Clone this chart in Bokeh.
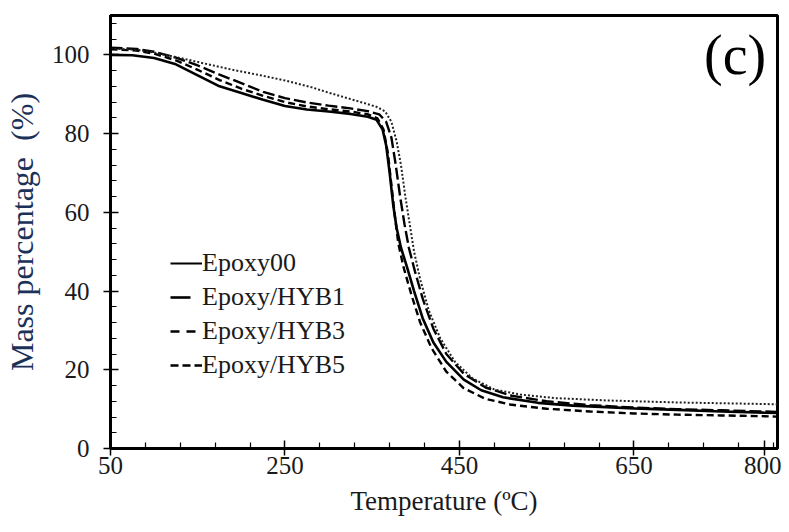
from bokeh.plotting import figure
from bokeh.models import Range1d, FixedTicker, Legend, LegendItem, Label
from bokeh.embed import file_html
from bokeh.resources import INLINE

# ---- data ----
x_ticks = [50, 250, 450, 650, 800]
x_tick_labels = ["50", "250", "450", "650", "800"]
y_ticks = [0, 20, 40, 60, 80, 100]

temp_00 = [50, 75, 100, 125, 150, 175, 200, 225, 250, 275, 300, 325, 345, 355, 362, 366, 370, 374, 378, 383, 390, 398, 408, 420, 435, 455, 475, 500, 540, 580, 650, 700, 750, 800, 814]
mass_00 = [100, 99.9, 99.2, 97.6, 94.8, 92.0, 90.3, 88.6, 87.0, 86.1, 85.6, 85.0, 84.3, 83.5, 81.0, 77.0, 70.0, 62.0, 56.0, 51.0, 46.0, 40.0, 33.0, 27.0, 22.0, 17.5, 14.8, 13.0, 11.6, 10.9, 10.2, 9.8, 9.4, 9.1, 9.0]

temp_hyb1 = [50, 80, 100, 125, 150, 175, 200, 225, 250, 275, 300, 325, 345, 358, 366, 372, 377, 382, 387, 392, 399, 408, 420, 435, 455, 480, 510, 550, 600, 650, 700, 750, 800, 814]
mass_hyb1 = [101.8, 101.5, 100.8, 99.3, 97.3, 95.0, 92.8, 90.6, 89.0, 87.9, 87.1, 86.4, 85.7, 84.9, 83.0, 79.0, 72.0, 64.0, 57.0, 51.0, 45.0, 38.0, 30.5, 24.0, 19.0, 15.5, 13.4, 12.0, 11.0, 10.4, 10.0, 9.7, 9.4, 9.3]

temp_hyb3 = [50, 80, 100, 125, 150, 175, 200, 225, 250, 275, 300, 325, 345, 356, 363, 368, 372, 376, 380, 386, 395, 405, 418, 435, 455, 480, 510, 550, 600, 650, 700, 750, 800, 814]
mass_hyb3 = [101.4, 101.1, 100.3, 98.6, 96.2, 93.6, 91.4, 89.6, 88.0, 86.9, 86.2, 85.6, 84.9, 83.9, 81.0, 75.0, 67.0, 59.0, 52.0, 46.0, 39.0, 32.0, 25.5, 19.5, 15.3, 12.6, 11.1, 10.1, 9.4, 8.9, 8.6, 8.4, 8.2, 8.1]

temp_hyb5 = [50, 80, 100, 130, 160, 190, 220, 250, 280, 300, 320, 340, 355, 365, 372, 378, 383, 388, 393, 398, 405, 415, 428, 445, 465, 490, 520, 560, 620, 700, 800, 814]
mass_hyb5 = [101.6, 101.3, 100.6, 99.2, 97.7, 96.2, 94.9, 93.5, 91.8, 90.4, 89.1, 87.8, 86.8, 85.6, 83.0, 78.0, 72.0, 64.0, 57.0, 50.0, 43.0, 35.0, 28.0, 22.0, 17.8, 15.0, 13.7, 12.8, 12.2, 11.7, 11.3, 11.2]

series_labels = ["Epoxy00", "Epoxy/HYB1", "Epoxy/HYB3", "Epoxy/HYB5"]

FONT = "Liberation Serif"
NAN = float("nan")

p = figure(width=781, height=524, output_backend="svg", toolbar_location=None,
           x_range=Range1d(50, 814.6), y_range=Range1d(0, 110),
           min_border_left=108, min_border_right=4, min_border_top=15, min_border_bottom=76)
p.background_fill_color = "white"
p.border_fill_color = "white"
p.grid.visible = False
p.outline_line_color = "black"
p.outline_line_width = 3

# curves
p.line(temp_00, mass_00, line_color="black", line_width=2.6)
p.line(temp_hyb1, mass_hyb1, line_color="black", line_width=2.4, line_dash="12 4")
p.line(temp_hyb3, mass_hyb3, line_color="black", line_width=2.4, line_dash="7 4")
p.line(temp_hyb5, mass_hyb5, line_color="#222222", line_width=2.0, line_dash="2 2")

# legend swatch proxies (NaN data: nothing drawn in the plot, only in the legend)
r0 = p.line([NAN, NAN], [NAN, NAN], line_color="black", line_width=2.2)
r1 = p.line([NAN, NAN], [NAN, NAN], line_color="black", line_width=2.6, line_dash="20 14")
r3 = p.line([NAN, NAN], [NAN, NAN], line_color="black", line_width=2.6, line_dash="9 7")
r5 = p.line([NAN, NAN], [NAN, NAN], line_color="black", line_width=2.6, line_dash="8 4")

legend = Legend(items=[LegendItem(label=series_labels[0], renderers=[r0]),
                       LegendItem(label=series_labels[1], renderers=[r1]),
                       LegendItem(label=series_labels[2], renderers=[r3]),
                       LegendItem(label=series_labels[3], renderers=[r5])],
                location=(60, 68))
legend.background_fill_alpha = 0
legend.border_line_alpha = 0
legend.padding = 0
legend.margin = 0
legend.spacing = 4
legend.glyph_width = 32
legend.glyph_height = 20
legend.label_standoff = 0
legend.label_text_font = FONT
legend.label_text_font_size = "26px"
legend.label_text_color = "#1a1a1a"
p.add_layout(legend)

# x axis
xa = p.xaxis[0]
xa.ticker = FixedTicker(ticks=x_ticks, minor_ticks=[v for v in range(90, 815, 40) if (v - 50) % 200 != 0])
xa.major_label_overrides = {t: s for t, s in zip(x_ticks, x_tick_labels)}
xa.axis_label = "Temperature (\u00baC)"
xa.axis_label_text_font = FONT
xa.axis_label_text_font_style = "normal"
xa.axis_label_text_font_size = "27px"
xa.axis_label_text_color = "#1a1a1a"
xa.axis_label_standoff = 9
xa.major_label_text_font = FONT
xa.major_label_text_font_size = "25px"
xa.major_label_text_color = "#1a1a1a"
xa.major_label_standoff = 1
xa.axis_line_width = 3
xa.axis_line_color = "black"
xa.major_tick_in = 8
xa.major_tick_out = 7
xa.major_tick_line_width = 1.5
xa.minor_tick_in = 6
xa.minor_tick_out = 0
xa.minor_tick_line_width = 1.2

# y axis
ya = p.yaxis[0]
ya.ticker = FixedTicker(ticks=y_ticks, minor_ticks=[v for v in range(4, 110, 4) if v % 20 != 0])
ya.axis_label = "Mass percentage\u00a0 (%)"
ya.axis_label_text_font = FONT
ya.axis_label_text_font_style = "normal"
ya.axis_label_text_font_size = "32px"
ya.axis_label_text_color = "#1c3158"
ya.axis_label_standoff = 9
ya.major_label_text_font = FONT
ya.major_label_text_font_size = "25px"
ya.major_label_text_color = "#1a1a1a"
ya.major_label_standoff = 14
ya.axis_line_width = 3
ya.axis_line_color = "black"
ya.major_tick_in = 8
ya.major_tick_out = 7
ya.major_tick_line_width = 1.5
ya.minor_tick_in = 6
ya.minor_tick_out = 0
ya.minor_tick_line_width = 1.2

# panel tag
p.add_layout(Label(x=766, y=100, text="(c)", text_font=FONT, text_font_size="56px",
                   text_color="black", text_align="center", text_baseline="middle"))

open("out.html", "w").write(file_html(p, INLINE))
